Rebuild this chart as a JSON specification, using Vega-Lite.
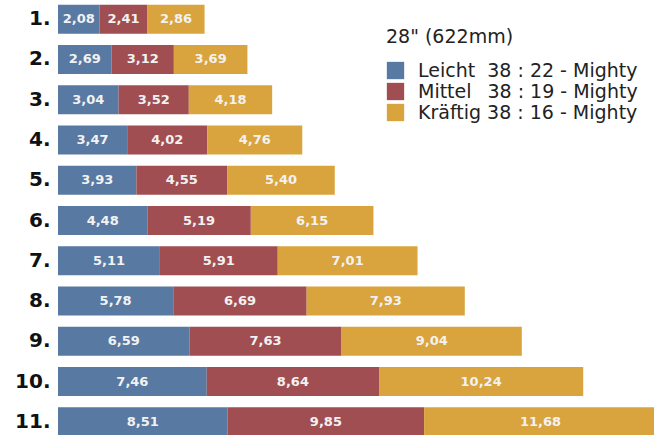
{
  "$schema": "https://vega.github.io/schema/vega-lite/v6.json",
  "width": 599,
  "height": 435,
  "autosize": {"type": "none"},
  "padding": {"left": 58, "top": 0, "right": 0, "bottom": 0},
  "background": "white",
  "data": {
    "values": [
      {"row": "1.", "seg": "Leicht", "k": 1, "v": 2.08},
      {"row": "1.", "seg": "Mittel", "k": 2, "v": 2.41},
      {"row": "1.", "seg": "Kräftig", "k": 3, "v": 2.86},
      {"row": "2.", "seg": "Leicht", "k": 1, "v": 2.69},
      {"row": "2.", "seg": "Mittel", "k": 2, "v": 3.12},
      {"row": "2.", "seg": "Kräftig", "k": 3, "v": 3.69},
      {"row": "3.", "seg": "Leicht", "k": 1, "v": 3.04},
      {"row": "3.", "seg": "Mittel", "k": 2, "v": 3.52},
      {"row": "3.", "seg": "Kräftig", "k": 3, "v": 4.18},
      {"row": "4.", "seg": "Leicht", "k": 1, "v": 3.47},
      {"row": "4.", "seg": "Mittel", "k": 2, "v": 4.02},
      {"row": "4.", "seg": "Kräftig", "k": 3, "v": 4.76},
      {"row": "5.", "seg": "Leicht", "k": 1, "v": 3.93},
      {"row": "5.", "seg": "Mittel", "k": 2, "v": 4.55},
      {"row": "5.", "seg": "Kräftig", "k": 3, "v": 5.40},
      {"row": "6.", "seg": "Leicht", "k": 1, "v": 4.48},
      {"row": "6.", "seg": "Mittel", "k": 2, "v": 5.19},
      {"row": "6.", "seg": "Kräftig", "k": 3, "v": 6.15},
      {"row": "7.", "seg": "Leicht", "k": 1, "v": 5.11},
      {"row": "7.", "seg": "Mittel", "k": 2, "v": 5.91},
      {"row": "7.", "seg": "Kräftig", "k": 3, "v": 7.01},
      {"row": "8.", "seg": "Leicht", "k": 1, "v": 5.78},
      {"row": "8.", "seg": "Mittel", "k": 2, "v": 6.69},
      {"row": "8.", "seg": "Kräftig", "k": 3, "v": 7.93},
      {"row": "9.", "seg": "Leicht", "k": 1, "v": 6.59},
      {"row": "9.", "seg": "Mittel", "k": 2, "v": 7.63},
      {"row": "9.", "seg": "Kräftig", "k": 3, "v": 9.04},
      {"row": "10.", "seg": "Leicht", "k": 1, "v": 7.46},
      {"row": "10.", "seg": "Mittel", "k": 2, "v": 8.64},
      {"row": "10.", "seg": "Kräftig", "k": 3, "v": 10.24},
      {"row": "11.", "seg": "Leicht", "k": 1, "v": 8.51},
      {"row": "11.", "seg": "Mittel", "k": 2, "v": 9.85},
      {"row": "11.", "seg": "Kräftig", "k": 3, "v": 11.68}
    ]
  },
  "encoding": {
    "y": {
      "field": "row",
      "type": "ordinal",
      "sort": null,
      "scale": {"range": [-1, 442], "paddingInner": 0.28, "paddingOuter": 0.14},
      "axis": {
        "title": null,
        "domain": false,
        "ticks": false,
        "labelFont": "DejaVu Sans",
        "labelFontWeight": "bold",
        "labelFontSize": 20,
        "labelColor": "#111111",
        "labelPadding": 8
      }
    }
  },
  "layer": [
    {
      "mark": {"type": "bar"},
      "encoding": {
        "x": {
          "field": "v",
          "type": "quantitative",
          "stack": "zero",
          "scale": {"domain": [0, 30.04], "nice": false, "zero": true},
          "axis": null
        },
        "color": {
          "field": "seg",
          "type": "nominal",
          "scale": {
            "domain": ["Leicht", "Mittel", "Kräftig"],
            "range": ["#5879a2", "#a04e51", "#d9a43d"]
          },
          "legend": {
            "orient": "none",
            "legendX": 328,
            "legendY": 28,
            "title": "28\" (622mm)",
            "titleFont": "DejaVu Sans",
            "titleFontSize": 19,
            "titleFontWeight": "normal",
            "titleColor": "#222222",
            "titlePadding": 14,
            "labelFont": "DejaVu Sans",
            "labelFontSize": 19,
            "labelColor": "#222222",
            "labelLimit": 400,
            "labelOffset": 13,
            "labelExpr": "datum.label == 'Leicht' ? 'Leicht\u00a0\u00a038 : 22 - Mighty' : datum.label == 'Mittel' ? 'Mittel\u00a0\u00a0\u200938 : 19 - Mighty' : 'Kräftig\u00a038 : 16 - Mighty'",
            "symbolType": "square",
            "symbolSize": 300,
            "symbolStrokeWidth": 0,
            "symbolOpacity": 1,
            "rowPadding": 1,
            "padding": 0
          }
        },
        "order": {"field": "k", "type": "quantitative"}
      }
    },
    {
      "mark": {
        "type": "text",
        "font": "DejaVu Sans",
        "fontWeight": "bold",
        "fontSize": 13,
        "color": "#f2f2f2",
        "align": "center",
        "baseline": "middle"
      },
      "encoding": {
        "x": {
          "field": "v",
          "type": "quantitative",
          "stack": "zero",
          "bandPosition": 0.5
        },
        "detail": {"field": "seg", "type": "nominal"},
        "order": {"field": "k", "type": "quantitative"},
        "text": {"field": "v", "type": "quantitative", "format": ".2f"}
      }
    }
  ],
  "config": {
    "view": {"stroke": null},
    "locale": {
      "number": {
        "decimal": ",",
        "thousands": ".",
        "grouping": [3],
        "currency": ["", " €"]
      }
    }
  }
}
